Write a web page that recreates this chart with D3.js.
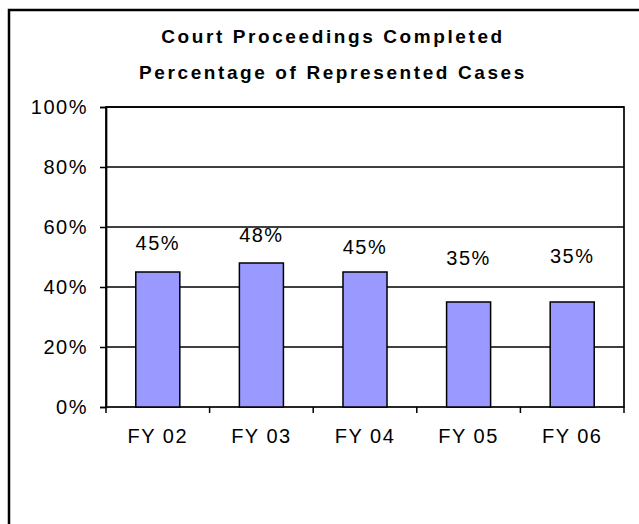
<!DOCTYPE html>
<html>
<head>
<meta charset="utf-8">
<script src="https://cdn.jsdelivr.net/npm/d3@7"></script>
<style>
  body { margin: 0; background: #fff; }
  svg text { font-family: "Liberation Sans", Arial, sans-serif; fill: #000; }
</style>
</head>
<body>
<svg id="chart"></svg>
<script>
// chart data
const years = ["FY 02", "FY 03", "FY 04", "FY 05", "FY 06"];
const percents = [45, 48, 45, 35, 35];
const yTicks = [0, 20, 40, 60, 80, 100];
const titleLines = ["Court Proceedings Completed", "Percentage of Represented Cases"];

let width = 639;
let height = 524;

let svg = d3.select('#chart')
	.attr('width', width)
	.attr('height', height);

// outer frame, only top and left edges fall inside the picture
svg.append('rect')
	.attr('x', 9)
	.attr('y', 10)
	.attr('width', 700)
	.attr('height', 700)
	.attr('fill', 'none')
	.attr('stroke', '#000')
	.attr('stroke-width', 2.5);

let plot = { left: 106, right: 624, top: 107, bottom: 407 };

let x = d3.scaleBand()
	.domain(years)
	.range([plot.left, plot.right])
	.paddingInner(0.575)
	.paddingOuter(0.2875);

let xOuter = d3.scaleBand()
	.domain(years)
	.range([plot.left, plot.right]);

let y = d3.scaleLinear()
	.domain([0, 100])
	.range([plot.bottom, plot.top]);

// title
svg.append('g')
	.selectAll('text')
	.data(titleLines)
	.enter()
	.append('text')
	.attr('x', 333)
	.attr('y', (d, i) => 43 + i * 36)
	.attr('text-anchor', 'middle')
	.style('font-size', '19px')
	.style('font-weight', 'bold')
	.style('letter-spacing', '2.6px')
	.text(d => d);

// gridlines
svg.append('g')
	.selectAll('line')
	.data(yTicks.filter(t => t > 0))
	.enter()
	.append('line')
	.attr('x1', plot.left)
	.attr('x2', plot.right)
	.attr('y1', d => y(d))
	.attr('y2', d => y(d))
	.attr('stroke', '#000')
	.attr('stroke-width', 1.5);

// plot border
svg.append('rect')
	.attr('x', plot.left)
	.attr('y', plot.top)
	.attr('width', plot.right - plot.left)
	.attr('height', plot.bottom - plot.top)
	.attr('fill', 'none')
	.attr('stroke', '#000')
	.attr('stroke-width', 1.7);

// bars
svg.append('g')
	.selectAll('rect')
	.data(percents)
	.enter()
	.append('rect')
	.attr('x', (d, i) => x(years[i]))
	.attr('y', d => y(d))
	.attr('width', x.bandwidth())
	.attr('height', d => y(0) - y(d))
	.attr('fill', '#9999ff')
	.attr('stroke', '#000')
	.attr('stroke-width', 1.5);

// y axis
let yAxis = svg.append('g')
	.attr('transform', `translate(${plot.left},0)`)
	.call(d3.axisLeft(y).tickValues(yTicks).tickSize(6).tickPadding(12).tickFormat(d => d + '%'));
yAxis.select('.domain').attr('stroke-width', 1.7);
yAxis.selectAll('.tick line').attr('stroke-width', 1.5);
yAxis.selectAll('.tick text')
	.style('font-size', '20px')
	.style('letter-spacing', '1.5px')
	.attr('dy', '0.33em');

// x axis, ticks sit on band edges
let xAxis = svg.append('g')
	.attr('transform', `translate(0,${plot.bottom})`)
	.call(d3.axisBottom(xOuter).tickSize(0).tickPadding(22));
xAxis.select('.domain').remove();
xAxis.selectAll('.tick text')
	.style('font-size', '20px')
	.style('letter-spacing', '1.5px');

svg.append('g')
	.selectAll('line')
	.data(years.map(d => xOuter(d)).concat([plot.right]))
	.enter()
	.append('line')
	.attr('x1', d => d)
	.attr('x2', d => d)
	.attr('y1', plot.bottom)
	.attr('y2', plot.bottom + 6)
	.attr('stroke', '#000')
	.attr('stroke-width', 1.5);

// value labels, lifted like in the original
let labelLift = [22, 21, 18, 37, 39];
svg.append('g')
	.selectAll('text')
	.data(percents)
	.enter()
	.append('text')
	.attr('x', (d, i) => xOuter(years[i]) + xOuter.bandwidth() / 2)
	.attr('y', (d, i) => y(d) - labelLift[i])
	.attr('text-anchor', 'middle')
	.style('font-size', '20px')
	.style('letter-spacing', '1.5px')
	.text(d => d + '%');
</script>
</body>
</html>
